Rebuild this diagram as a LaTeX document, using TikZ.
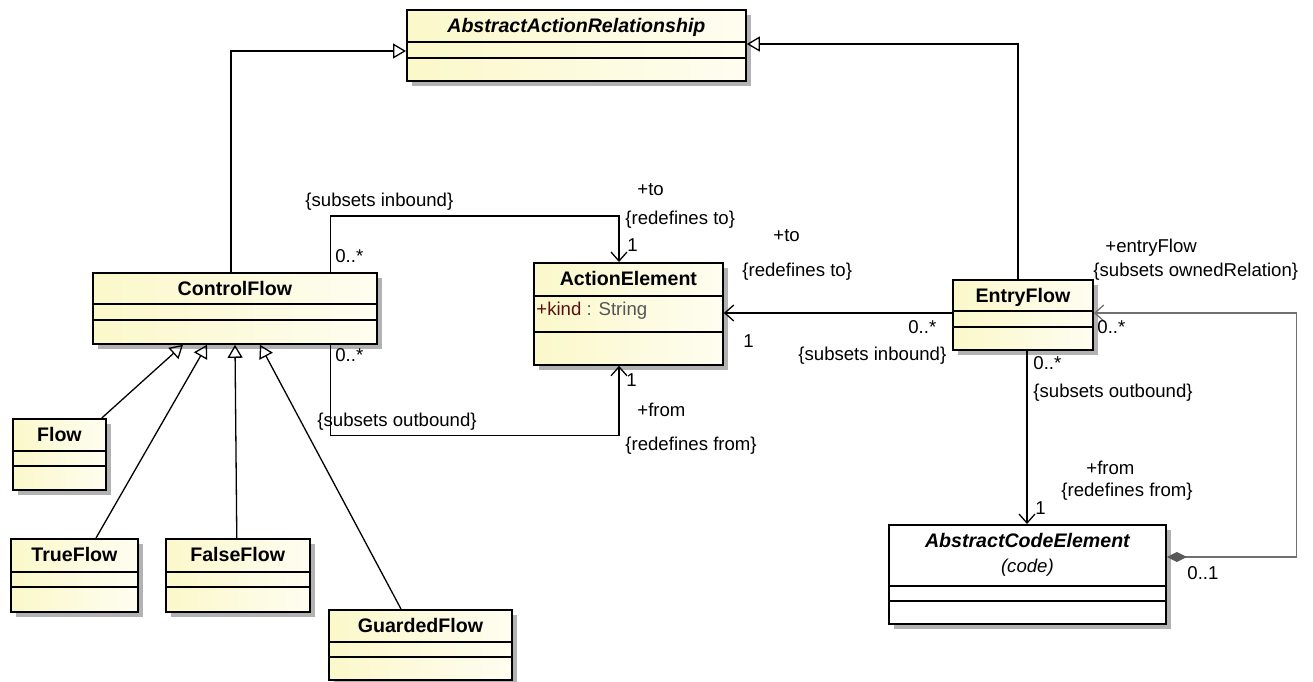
\documentclass[tikz,border=0pt]{standalone}
\usepackage{fontspec}
\setmainfont{Liberation Sans}
\usetikzlibrary{positioning,arrows.meta,calc,shadows}
\definecolor{creamL}{HTML}{FBF8CA}
\definecolor{creamR}{HTML}{FEFDF0}
\definecolor{attrred}{HTML}{5A1010}
\definecolor{attrgray}{HTML}{555555}
\definecolor{complink}{HTML}{707070}
\newcommand{\lblfont}{\fontsize{9.3}{11}\selectfont}
\newcommand{\titlefont}{\fontsize{9.8}{12}\selectfont\bfseries}
\tikzset{
  classbox/.style={draw, line width=0.9pt, anchor=north west, inner xsep=0pt, inner ysep=0pt, text height=11.5pt, font=\titlefont, fill=white, drop shadow={shadow xshift=2.5pt, shadow yshift=-2.5pt, fill=black!30, opacity=1}},
  yellowbox/.style={classbox, left color=creamL, right color=creamR},
  divline/.style={line width=0.9pt},
  lbl/.style={font=\lblfont, inner sep=0pt, anchor=west},
  assoc/.style={line width=0.65pt, -{Straight Barb[length=4.5pt,width=8pt]}},
  genarrow/.style={line width=0.65pt, -{Triangle[open, length=6.5pt, width=7.5pt]}},
  comparrow/.style={line width=0.65pt, draw=complink, {Diamond[length=10pt,width=5pt,color=black!65,fill=black!65]}-{Straight Barb[length=4.5pt,width=8pt]}}
}

\begin{document}
\begin{tikzpicture}[x=0.5pt, y=-0.5pt]
  \useasboundingbox (0,0) rectangle (1313,681);
  % classes
  \node[yellowbox, minimum width=169.5pt, text depth=24pt] (aar) at (406,9) {\itshape AbstractActionRelationship};
  \node[yellowbox, minimum width=142pt, text depth=24pt] (ctrl) at (92,272) {ControlFlow};
  \node[yellowbox, minimum width=94.5pt, text depth=39.5pt] (ae) at (533,262) {ActionElement};
  \node[yellowbox, minimum width=70pt, text depth=23.5pt] (ef) at (952,279) {EntryFlow};
  \node[classbox, minimum width=138.5pt, text depth=38pt] (ace) at (888,524) {\itshape AbstractCodeElement};
  \node[yellowbox, minimum width=46.5pt, text depth=24pt] (flow) at (12,418) {Flow};
  \node[yellowbox, minimum width=63.5pt, text depth=25pt] (trueflow) at (10,538) {TrueFlow};
  \node[yellowbox, minimum width=72pt, text depth=25pt, right=13pt of trueflow] (falseflow) {FalseFlow};
  \node[yellowbox, minimum width=91.5pt, text depth=23.5pt] (guarded) at (328,609) {GuardedFlow};
  \foreach \c/\a/\b in {aar/33/49, ctrl/32/48, ae/34/70, ef/32/48, ace/62/77, flow/33/48, trueflow/34/49, falseflow/34/49, guarded/33/48}
    \draw[divline] ($(\c.north west)+(0,\a)$) -- ($(\c.north east)+(0,\a)$)
                   ($(\c.north west)+(0,\b)$) -- ($(\c.north east)+(0,\b)$);
  \node[lbl] (kind) at ($(ae.north west)+(3,49)$) {\textcolor{attrred}{+kind} \textcolor{attrgray}{: String}};
  \node[font=\lblfont\itshape, inner sep=0pt] (acetag) at ($(ace.north)+(0,44)$) {(code)};
  % generalizations
  \draw[genarrow] ($(ctrl.north west)+(139,0)$) |- ($(aar.north west)+(0,42)$);
  \draw[genarrow] ($(ef.north west)+(66,0)$) |- ($(aar.north east)+(0,35)$);
  \draw[genarrow] ($(flow.north east)+(-5,0)$) -- ($(ctrl.south west)+(91,0)$);
  \draw[genarrow] ($(trueflow.north west)+(86,0)$) -- ($(ctrl.south west)+(115,0)$);
  \draw[genarrow] ($(falseflow.north west)+(72,0)$) -- ($(ctrl.south west)+(143,0)$);
  \draw[genarrow] ($(guarded.north west)+(73,0)$) -- ($(ctrl.south west)+(168,0)$);
  % associations
  \draw[assoc] ($(ctrl.north east)+(-47,0)$) |- ($(ae.north west)+(86,-46)$) -- ($(ae.north west)+(86,0)$);
  \draw[assoc] ($(ctrl.south east)+(-47,0)$) |- ($(ae.south west)+(86,70)$) -- ($(ae.south west)+(86,0)$);
  \draw[assoc] ($(ef.north west)+(0,34)$) coordinate (efin) -- (efin -| ae.east);
  \draw[assoc] ($(ef.south west)+(75,0)$) coordinate (efout) -- (efout |- ace.north);
  \draw[comparrow] ($(ace.north east)+(0,33)$) -- ++(130,0) |- ($(ef.north east)+(0,34)$);
  % role names and multiplicities
  \node[lbl] (inA) at (305,202) {\{subsets inbound\}};
  \node[lbl] (mA) at (335,256) {0..*};
  \node[lbl] (toA) at (637,190) {+to};
  \node[lbl] (rtoA) at (625,220) {\{redefines to\}};
  \node[lbl] (oneA) at (627,245) {1};
  \node[lbl] (mB) at (335,355) {0..*};
  \node[lbl] (outB) at (317,422) {\{subsets outbound\}};
  \node[lbl] (oneB) at (626,380) {1};
  \node[lbl] (fromB) at (637,410) {+from};
  \node[lbl] (rfromB) at (625,446) {\{redefines from\}};
  \node[lbl] (toC) at (773,236) {+to};
  \node[lbl] (rtoC) at (742,272) {\{redefines to\}};
  \node[lbl] (oneC) at (743,341) {1};
  \node[lbl] (mC) at (908,327) {0..*};
  \node[lbl] (inC) at (798,356) {\{subsets inbound\}};
  \node[lbl] (mD) at (1033,363) {0..*};
  \node[lbl] (outD) at (1033,393) {\{subsets outbound\}};
  \node[lbl] (fromD) at (1086,468) {+from};
  \node[lbl] (rfromD) at (1061,492) {\{redefines from\}};
  \node[lbl] (oneD) at (1035,508) {1};
  \node[lbl] (efrole) at (1105,248) {+entryFlow};
  \node[lbl] (owned) at (1093,272) {\{subsets ownedRelation\}};
  \node[lbl] (mE) at (1097,327) {0..*};
  \node[lbl] (mF) at (1187,573) {0..1};
\end{tikzpicture}
\end{document}
